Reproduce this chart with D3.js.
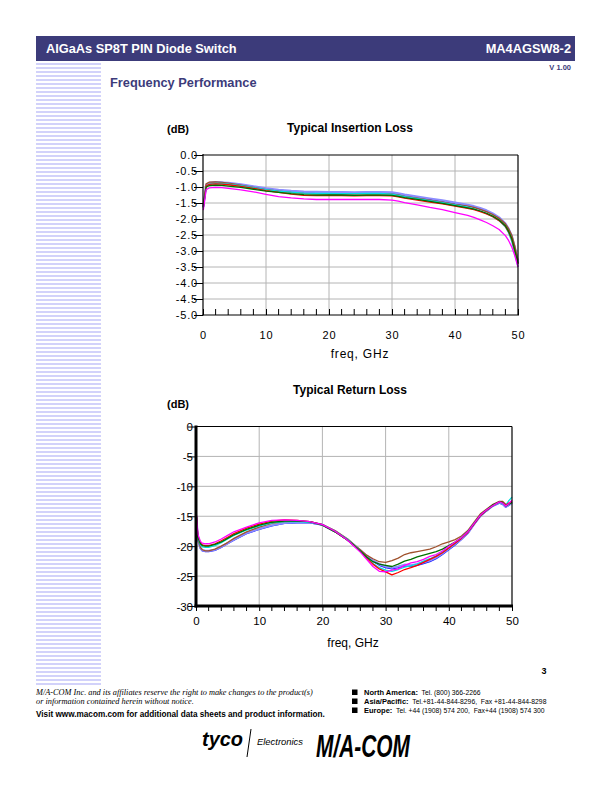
<!DOCTYPE html>
<html><head><meta charset="utf-8">
<script src="https://cdn.jsdelivr.net/npm/d3@7"></script>
<style>body{margin:0;background:#fff}svg{display:block;font-family:"Liberation Sans",Arial,sans-serif}</style>
</head><body>
<script>
// ---------- DATA ----------
const seriesNames = ["Blue","Lavender","Brown","Cyan","Red","Green","Magenta"];
const seriesColors = ["#1010ff","#8c8cff","#a0522d","#00dede","#ff0000","#007000","#ff00ff"];

const ilFreq = [0.05,0.5,1,2,3,4,6,8,10,12,14,16,18,20,22,24,26,28,30,31,32,34,36,38,40,42,43,44,45,46,47,48,48.5,49,49.5,50];
const ilBlue    = [-1.60,-0.95,-0.88,-0.86,-0.86,-0.88,-0.93,-0.99,-1.06,-1.10,-1.13,-1.15,-1.16,-1.17,-1.17,-1.18,-1.17,-1.17,-1.18,-1.21,-1.25,-1.31,-1.38,-1.44,-1.51,-1.58,-1.63,-1.69,-1.76,-1.85,-1.97,-2.16,-2.32,-2.55,-2.95,-3.40];
const ilLavender= [-1.62,-0.93,-0.87,-0.85,-0.86,-0.87,-0.92,-0.98,-1.04,-1.09,-1.12,-1.14,-1.15,-1.16,-1.16,-1.17,-1.16,-1.16,-1.17,-1.20,-1.24,-1.30,-1.36,-1.42,-1.49,-1.56,-1.60,-1.66,-1.73,-1.83,-1.95,-2.14,-2.30,-2.52,-2.90,-3.35];
const ilBrown   = [-1.58,-0.90,-0.85,-0.84,-0.86,-0.88,-0.94,-1.01,-1.08,-1.13,-1.17,-1.20,-1.21,-1.22,-1.22,-1.22,-1.21,-1.21,-1.22,-1.25,-1.29,-1.35,-1.41,-1.47,-1.54,-1.60,-1.64,-1.70,-1.77,-1.86,-1.98,-2.15,-2.30,-2.50,-2.85,-3.30];
const ilCyan    = [-1.65,-0.98,-0.91,-0.89,-0.89,-0.91,-0.96,-1.02,-1.08,-1.13,-1.16,-1.19,-1.20,-1.20,-1.21,-1.21,-1.20,-1.20,-1.22,-1.26,-1.30,-1.36,-1.43,-1.49,-1.56,-1.63,-1.68,-1.75,-1.83,-1.93,-2.05,-2.25,-2.43,-2.70,-3.10,-3.50];
const ilRed     = [-1.63,-0.97,-0.92,-0.90,-0.91,-0.93,-0.98,-1.04,-1.11,-1.17,-1.22,-1.26,-1.27,-1.27,-1.27,-1.28,-1.27,-1.27,-1.28,-1.31,-1.35,-1.41,-1.47,-1.53,-1.60,-1.67,-1.71,-1.77,-1.84,-1.93,-2.05,-2.23,-2.40,-2.63,-3.00,-3.40];
const ilGreen   = [-1.64,-1.00,-0.96,-0.94,-0.95,-0.97,-1.01,-1.07,-1.13,-1.17,-1.21,-1.24,-1.25,-1.25,-1.25,-1.26,-1.25,-1.25,-1.26,-1.29,-1.33,-1.39,-1.45,-1.51,-1.58,-1.65,-1.69,-1.75,-1.82,-1.91,-2.03,-2.21,-2.38,-2.60,-2.98,-3.38];
const ilMagenta = [-1.72,-1.08,-1.03,-1.01,-1.02,-1.04,-1.09,-1.15,-1.23,-1.30,-1.34,-1.37,-1.39,-1.39,-1.39,-1.39,-1.39,-1.39,-1.41,-1.44,-1.49,-1.56,-1.64,-1.71,-1.80,-1.89,-1.95,-2.03,-2.11,-2.21,-2.33,-2.52,-2.67,-2.87,-3.15,-3.50];

const rlFreq = [0.05,0.3,0.7,1,1.5,2,3,4,5,6,8,10,12,14,16,18,20,22,24,25,26,27,28,29,30,31,32,33,34,35,36,37,38,39,40,41,42,43,44,45,46,47,48,48.5,49,49.5,50];
const rlBlue    = [-15.2,-19.0,-20.4,-20.8,-20.9,-20.9,-20.7,-20.2,-19.6,-19.0,-17.9,-17.2,-16.6,-16.2,-16.1,-16.1,-16.5,-17.6,-19.0,-19.9,-20.8,-21.7,-22.5,-23.2,-23.6,-23.8,-23.6,-23.3,-23.4,-23.2,-22.9,-22.6,-22.1,-21.4,-20.6,-19.8,-18.9,-17.9,-16.4,-15.0,-14.1,-13.3,-12.8,-13.0,-13.5,-13.2,-12.8];
const rlLavender= [-15.0,-18.9,-20.3,-20.7,-20.8,-20.8,-20.6,-20.1,-19.5,-18.9,-17.8,-17.1,-16.5,-16.1,-16.0,-16.0,-16.4,-17.5,-18.9,-19.8,-20.7,-21.6,-22.4,-23.0,-23.4,-23.6,-23.4,-23.1,-23.2,-23.0,-22.7,-22.4,-21.9,-21.2,-20.4,-19.6,-18.8,-17.8,-16.3,-14.9,-14.0,-13.2,-12.7,-12.9,-13.4,-13.1,-12.7];
const rlBrown   = [-14.6,-18.8,-20.2,-20.6,-20.8,-20.8,-20.5,-20.0,-19.4,-18.7,-17.6,-16.8,-16.2,-15.9,-15.8,-15.9,-16.4,-17.4,-18.8,-19.7,-20.6,-21.5,-22.1,-22.6,-22.7,-22.4,-22.0,-21.4,-21.1,-20.9,-20.7,-20.5,-20.1,-19.6,-19.3,-18.9,-18.3,-17.4,-16.0,-14.6,-13.8,-13.0,-12.5,-12.5,-13.0,-12.9,-12.6];
const rlCyan    = [-15.0,-18.6,-19.8,-20.1,-20.2,-20.2,-19.9,-19.4,-18.8,-18.2,-17.3,-16.6,-16.1,-15.9,-15.9,-16.0,-16.4,-17.5,-18.9,-19.8,-20.8,-21.9,-22.9,-23.6,-24.0,-24.2,-23.9,-23.5,-23.3,-23.0,-22.5,-22.1,-21.6,-21.0,-20.3,-19.5,-18.6,-17.6,-16.2,-14.9,-14.0,-13.2,-12.7,-12.9,-13.2,-12.4,-11.8];
const rlRed     = [-14.8,-18.3,-19.4,-19.8,-19.9,-19.9,-19.6,-19.1,-18.5,-17.9,-17.0,-16.3,-15.8,-15.6,-15.7,-15.9,-16.4,-17.6,-19.0,-19.9,-20.9,-22.0,-23.0,-23.8,-24.3,-24.8,-24.4,-23.9,-23.6,-23.2,-22.7,-22.2,-21.7,-21.1,-20.3,-19.5,-18.7,-17.7,-16.3,-14.9,-14.0,-13.2,-12.6,-12.7,-13.2,-12.8,-12.5];
const rlGreen   = [-14.7,-18.5,-19.6,-19.9,-20.0,-20.0,-19.7,-19.3,-18.7,-18.1,-17.2,-16.5,-16.0,-15.8,-15.8,-15.9,-16.5,-17.6,-19.0,-19.9,-20.8,-21.8,-22.6,-23.0,-23.2,-23.4,-23.0,-22.5,-22.2,-21.8,-21.5,-21.2,-20.9,-20.5,-19.9,-19.3,-18.6,-17.6,-16.2,-14.8,-13.9,-13.1,-12.6,-12.7,-13.3,-13.0,-12.7];
const rlMagenta = [-14.5,-18.0,-19.2,-19.5,-19.6,-19.6,-19.3,-18.8,-18.2,-17.6,-16.8,-16.1,-15.7,-15.6,-15.7,-15.9,-16.4,-17.5,-19.0,-20.0,-21.0,-22.2,-23.4,-24.2,-24.3,-24.0,-23.8,-23.2,-22.8,-22.6,-22.2,-21.7,-21.4,-20.8,-20.0,-19.3,-18.6,-17.6,-16.2,-14.8,-13.9,-13.2,-12.6,-12.8,-13.3,-12.9,-12.3];

const ilTicks = [0,-0.5,-1,-1.5,-2,-2.5,-3,-3.5,-4,-4.5,-5];
const ilTickLabels = ["0.0","-0.5","-1.0","-1.5","-2.0","-2.5","-3.0","-3.5","-4.0","-4.5","-5.0"];
const rlTicks = [0,-5,-10,-15,-20,-25,-30];
const rlTickLabels = ["0","-5","-10","-15","-20","-25","-30"];
const freqTicks = [0,10,20,30,40,50];
const freqTickLabels = ["0","10","20","30","40","50"];
const minorFreqTicks = [2,4,6,8,12,14,16,18,22,24,26,28,32,34,36,38,42,44,46,48];

const ilSeries = [ilBlue,ilLavender,ilBrown,ilCyan,ilRed,ilGreen,ilMagenta];
const rlSeries = [rlBlue,rlLavender,rlBrown,rlCyan,rlRed,rlGreen,rlMagenta];

// ---------- PAGE ----------
const SANS="Liberation Sans, Arial, sans-serif", SERIF="Liberation Serif, Times New Roman, serif";
const W=612,H=792;
const svg=d3.select("body").append("svg").attr("width",W).attr("height",H);
const navy="#3c3b7a";
svg.append("rect").attr("x",36).attr("y",36).attr("width",539).attr("height",25).attr("fill",navy);
svg.append("text").attr("x",46).attr("y",52.5).attr("fill","#fff").attr("font-weight","bold").attr("font-size",12.8).text("AlGaAs SP8T PIN Diode Switch");
svg.append("text").attr("x",571).attr("y",52.5).attr("text-anchor","end").attr("fill","#fff").attr("font-weight","bold").attr("font-size",12.8).text("MA4AGSW8-2");
svg.append("text").attr("x",571).attr("y",70).attr("text-anchor","end").attr("fill",navy).attr("font-weight","bold").attr("font-size",7.5).text("V 1.00");
svg.append("text").attr("x",110).attr("y",87).attr("fill",navy).attr("font-weight","bold").attr("font-size",12.8).text("Frequency Performance");

const stripes=d3.range(63,685,4);
svg.append("g").selectAll("rect").data(stripes).join("rect")
  .attr("x",36).attr("y",d=>d).attr("width",65).attr("height",2).attr("fill","#d2d2fa");

// ---------- CHART helper ----------
function chart(opt){
  const g=svg.append("g");
  const x=d3.scaleLinear().domain([0,50]).range([opt.x0,opt.x1]);
  const y=d3.scaleLinear().domain([opt.ymin,0]).range([opt.y1,opt.y0]);
  g.append("g").selectAll("line").data(opt.yTicks.filter(v=>v!==0&&v!==opt.ymin)).join("line")
    .attr("x1",opt.x0).attr("x2",opt.x1).attr("y1",d=>y(d)).attr("y2",d=>y(d)).attr("stroke","#b4b4b4").attr("stroke-width",1);
  g.append("g").selectAll("line").data([10,20,30,40]).join("line")
    .attr("y1",opt.y0).attr("y2",opt.y1).attr("x1",d=>x(d)).attr("x2",d=>x(d)).attr("stroke","#b4b4b4").attr("stroke-width",1);
  const line=d3.line().x(d=>x(d[0])).y(d=>y(d[1]));
  opt.series.forEach((s,i)=>{
    g.append("path").datum(opt.freq.map((f,j)=>[f,s[j]])).attr("d",line).attr("fill","none")
      .attr("stroke",seriesColors[i]).attr("stroke-width",seriesNames[i]==="Lavender"?2.2:1.3).attr("stroke-linejoin","round");
  });
  g.append("line").attr("x1",opt.x0).attr("x2",opt.x1).attr("y1",opt.y0).attr("y2",opt.y0).attr("stroke","#000").attr("stroke-width",1.2);
  g.append("line").attr("x1",opt.x1).attr("x2",opt.x1).attr("y1",opt.y0).attr("y2",opt.y1).attr("stroke","#000").attr("stroke-width",1.2);
  const ya=d3.axisLeft(y).tickValues(opt.yTicks).tickFormat((d,i)=>opt.yLabels[i]).tickSize(opt.yTickLen).tickPadding(opt.yPad);
  const yg=g.append("g").attr("transform",`translate(${opt.x0},0)`).call(ya);
  yg.attr("font-family",null).attr("font-size",null);
  yg.select(".domain").attr("stroke-width",opt.axisW).attr("d",`M0,${opt.y0-1}V${opt.y1+opt.axisW/2}`);
  yg.selectAll(".tick line").attr("stroke-width",1);
  yg.selectAll("text").style("font-family",SANS).style("font-size",opt.fs+"px").attr("letter-spacing",opt.ls).attr("fill","#000").attr("dy","0.36em");
  const xa=d3.axisBottom(x).tickValues(freqTicks).tickFormat((d,i)=>freqTickLabels[i]).tickSize(opt.xTickLen).tickPadding(opt.xPad);
  const xg=g.append("g").attr("transform",`translate(0,${opt.y1})`).call(xa);
  xg.attr("font-family",null).attr("font-size",null);
  xg.select(".domain").attr("stroke-width",opt.axisW).attr("d",`M${opt.x0-opt.axisW/2},0H${opt.x1+1}`);
  xg.selectAll("text").style("font-family",SANS).style("font-size",opt.fs+"px").attr("letter-spacing",opt.ls).attr("fill","#000");
  g.append("g").selectAll("line").data(minorFreqTicks).join("line")
    .attr("x1",d=>x(d)).attr("x2",d=>x(d)).attr("y1",opt.y1).attr("y2",opt.y1+opt.xTickLen).attr("stroke","#000").attr("stroke-width",1);
  svg.append("text").attr("x",350).attr("y",opt.titleY).attr("text-anchor","middle").attr("font-weight","bold").attr("font-size",12).text(opt.title);
  svg.append("text").attr("x",167).attr("y",opt.dbY).attr("font-weight","bold").attr("font-size",11).text("(dB)");
  svg.append("text").attr("x",opt.xlabX).attr("y",opt.xlabY).attr("text-anchor","middle").attr("font-size",12).attr("letter-spacing",opt.ls).text("freq, GHz");
}

chart({x0:203,x1:518,y0:155,y1:315,ymin:-5,yTicks:ilTicks,yLabels:ilTickLabels,series:ilSeries,freq:ilFreq,
  yTickLen:9,yPad:-4,xTickLen:-6,xPad:16,axisW:1.2,fs:11,ls:0.8,title:"Typical Insertion Loss",titleY:132,dbY:133,xlabX:360,xlabY:358});
chart({x0:196,x1:512,y0:426.5,y1:606,ymin:-30,yTicks:rlTicks,yLabels:rlTickLabels,series:rlSeries,freq:rlFreq,
  yTickLen:8,yPad:-5,xTickLen:5,xPad:6,axisW:3,fs:11.5,ls:0,title:"Typical Return Loss",titleY:394,dbY:408,xlabX:353,xlabY:647});

// ---------- FOOTER ----------
svg.append("text").attr("x",544).attr("y",674).attr("text-anchor","middle").attr("font-weight","bold").attr("font-size",9).text("3");
svg.append("text").attr("x",36).attr("y",695).style("font-family",SERIF).attr("font-style","italic").attr("font-size",8.3).text("M/A-COM Inc. and its affiliates reserve the right to make changes to the product(s)");
svg.append("text").attr("x",36).attr("y",704).style("font-family",SERIF).attr("font-style","italic").attr("font-size",8.3).text("or information contained herein without notice.");
svg.append("text").attr("x",36).attr("y",717).attr("font-weight","bold").attr("font-size",8.2).text("Visit www.macom.com for additional data sheets and product information.");

const contacts=[["North America:","  Tel. (800) 366-2266"],["Asia/Pacific:","  Tel.+81-44-844-8296,  Fax +81-44-844-8298"],["Europe:","  Tel. +44 (1908) 574 200,  Fax+44 (1908) 574 300"]];
contacts.forEach((c,i)=>{
  const yy=695+i*9;
  svg.append("rect").attr("x",352).attr("y",yy-5.5).attr("width",5.5).attr("height",5.5).attr("fill","#000");
  const t=svg.append("text").attr("x",364).attr("y",yy).attr("font-size",7).attr("xml:space","preserve");
  t.append("tspan").attr("font-weight","bold").attr("font-size",7.5).text(c[0]);
  t.append("tspan").attr("font-size",6.8).text(c[1]);
});
svg.append("text").attr("x",202).attr("y",746).attr("font-weight","900").attr("font-style","italic").attr("font-size",20).attr("textLength",41).attr("lengthAdjust","spacingAndGlyphs").text("tyco");
svg.append("line").attr("x1",251).attr("y1",729).attr("x2",247).attr("y2",757).attr("stroke","#000").attr("stroke-width",1);
svg.append("text").attr("x",257).attr("y",745).attr("font-style","italic").attr("font-size",9.5).attr("textLength",46).attr("lengthAdjust","spacingAndGlyphs").text("Electronics");
svg.append("text").attr("x",316).attr("y",757).attr("font-weight","900").attr("font-style","italic").attr("font-size",32).attr("textLength",94).attr("lengthAdjust","spacingAndGlyphs").text("M/A-COM");
</script>
</body></html>
